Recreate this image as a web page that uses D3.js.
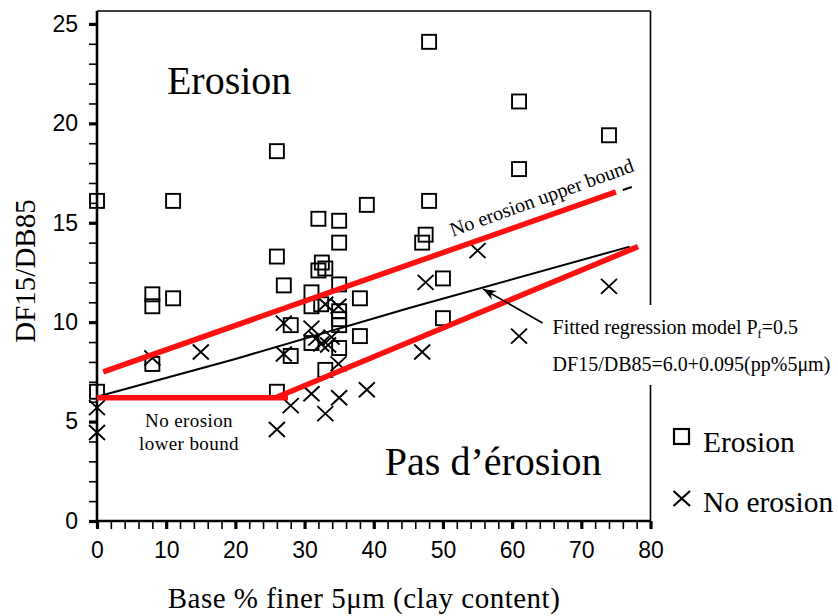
<!DOCTYPE html>
<html>
<head>
<meta charset="utf-8">
<script src="https://cdn.jsdelivr.net/npm/d3@7"></script>
<style>
  html, body { margin: 0; padding: 0; background: #fff; }
  svg { display: block; }
  text { fill: #000; }
</style>
</head>
<body>
<svg id="chart" width="838" height="616"></svg>
<script>
// ---------- data ----------
const erosionX = [0, 11, 8, 8, 11, 8, 0,
  26, 32, 35, 39, 35, 26, 32.5, 32, 33,
  27, 31, 31, 35, 38, 32.4, 35, 35, 35, 28, 38, 31, 35, 28, 33, 26,
  48, 61, 74, 61, 48, 47.5, 47, 50, 50];
const erosionY = [16.1, 16.1, 11.4, 10.8, 11.2, 7.9, 6.5,
  18.6, 15.2, 15.1, 15.9, 14.0, 13.3, 13.0, 12.6, 12.7,
  11.85, 11.5, 10.8, 11.9, 11.2, 10.9, 10.55, 10.15, 9.85, 9.85, 9.3, 8.95, 8.7, 8.3, 7.6, 6.5,
  24.1, 21.1, 19.4, 17.7, 16.1, 14.4, 14.0, 12.2, 10.2];

const noErosionX = [0, 0, 8, 15,
  26, 28, 31, 33, 35, 39,
  27, 27, 31, 31.7, 32.4, 33.9, 33.4, 34.9, 33, 34.9,
  47, 47.5, 55, 61, 74];
const noErosionY = [5.7, 4.45, 8.2, 8.5,
  4.6, 5.8, 6.4, 5.4, 6.2, 6.6,
  9.95, 8.4, 9.7, 9.2, 8.9, 9.25, 8.85, 7.9, 10.9, 10.8,
  8.5, 12.0, 13.6, 9.3, 11.8];

// regression curve (fitted model P_f = 0.5)
const regX = [0, 20, 45, 77];
const regY = [6.25, 8.15, 10.7, 13.8];
// no erosion upper bound (red)
const upperX = [0.9, 75];
const upperY = [7.5, 16.55];
// no erosion lower bound (red)
const lowerFlatX = [0, 27.6];
const lowerFlatY = [6.2, 6.2];
const lowerDiagX = [25.8, 78.2];
const lowerDiagY = [6.2, 13.8];

const xMajor = [0, 10, 20, 30, 40, 50, 60, 70, 80];
const yMajor = [0, 5, 10, 15, 20, 25];

// ---------- layout ----------
const svg = d3.select("#chart");
const x = d3.scaleLinear().domain([0, 80]).range([97, 650.5]);
const y = d3.scaleLinear().domain([0, 25.65]).range([521, 11]);

const serif = "'Liberation Serif', 'Times New Roman', serif";
const sans = "'Liberation Sans', Arial, sans-serif";

// frame (top & right, thin)
svg.append("line").attr("x1", x(0)).attr("x2", x(80)).attr("y1", y(25.65)).attr("y2", y(25.65))
  .attr("stroke", "#000").attr("stroke-width", 1.6);
svg.append("line").attr("x1", x(80)).attr("x2", x(80)).attr("y1", y(25.65)).attr("y2", y(0))
  .attr("stroke", "#000").attr("stroke-width", 1.6);

// axes: minor and major ticks
const yMinor = d3.range(0, 26, 1);
const xMinor = d3.range(0, 81, 2);

const gyMinor = svg.append("g").attr("transform", `translate(${x(0)},0)`)
  .call(d3.axisLeft(y).tickValues(yMinor).tickSize(8).tickFormat(""));
gyMinor.selectAll("line").attr("stroke-width", 1.6);
gyMinor.select(".domain").remove();
const gy = svg.append("g").attr("transform", `translate(${x(0)},0)`)
  .call(d3.axisLeft(y).tickValues(yMajor).tickSize(8).tickPadding(11).tickFormat(d3.format("d")));
gy.selectAll("line").attr("stroke-width", 3.2);
gy.selectAll("text").attr("font-family", sans).attr("font-size", 23).attr("fill", "#000");
gy.select(".domain").attr("stroke-width", 2.6).attr("d", `M0,${y(25.65)}V${y(0)}`);

const gxMinor = svg.append("g").attr("transform", `translate(0,${y(0)})`)
  .call(d3.axisBottom(x).tickValues(xMinor).tickSize(8).tickFormat(""));
gxMinor.selectAll("line").attr("stroke-width", 1.6);
gxMinor.select(".domain").remove();
const gx = svg.append("g").attr("transform", `translate(0,${y(0)})`)
  .call(d3.axisBottom(x).tickValues(xMajor).tickSize(8).tickPadding(13).tickFormat(d3.format("d")));
gx.selectAll("line").attr("stroke-width", 3.2);
gx.selectAll("text").attr("font-family", sans).attr("font-size", 23).attr("fill", "#000");
gx.select(".domain").attr("stroke-width", 2.6).attr("d", `M${x(0) - 1},0H${x(80)}`);

// axis titles
svg.append("text")
  .attr("transform", `translate(35,${(y(0) + y(25.65)) / 2 + 5}) rotate(-90)`)
  .attr("text-anchor", "middle").attr("font-family", serif).attr("font-size", 29)
  .text("DF15/DB85");
svg.append("text")
  .attr("x", 364).attr("y", 608)
  .attr("text-anchor", "middle").attr("font-family", serif).attr("font-size", 29)
  .attr("letter-spacing", 0.5)
  .text("Base % finer 5μm (clay content)");

// ---------- lines ----------
const lineGen = d3.line().x(d => x(d[0])).y(d => y(d[1]));
svg.append("path").datum(d3.zip(regX, regY)).attr("d", lineGen)
  .attr("fill", "none").attr("stroke", "#000").attr("stroke-width", 2);
// small black dash at end of upper bound
svg.append("path").datum([[76.0, 16.65], [77.3, 16.8]]).attr("d", lineGen)
  .attr("fill", "none").attr("stroke", "#000").attr("stroke-width", 2);

// ---------- points ----------
const sq = 14;
svg.append("g").selectAll("rect").data(d3.zip(erosionX, erosionY)).join("rect")
  .attr("x", d => x(d[0]) - sq / 2).attr("y", d => y(d[1]) - sq / 2)
  .attr("width", sq).attr("height", sq)
  .attr("fill", "none").attr("stroke", "#000").attr("stroke-width", 1.9);

const cw = 8, ch = 7.5;
const crossPath = (cx, cy) => `M${cx - cw},${cy - ch}L${cx + cw},${cy + ch}M${cx - cw},${cy + ch}L${cx + cw},${cy - ch}`;
svg.append("g").selectAll("path").data(d3.zip(noErosionX, noErosionY)).join("path")
  .attr("d", d => crossPath(x(d[0]), y(d[1])))
  .attr("fill", "none").attr("stroke", "#000").attr("stroke-width", 1.9);

// red bounds
const red = "#ff1010";
svg.append("path").datum(d3.zip(upperX, upperY)).attr("d", lineGen)
  .attr("fill", "none").attr("stroke", red).attr("stroke-width", 5.5);
svg.append("path").datum(d3.zip(lowerFlatX, lowerFlatY)).attr("d", lineGen)
  .attr("fill", "none").attr("stroke", red).attr("stroke-width", 5.5);
svg.append("path").datum(d3.zip(lowerDiagX, lowerDiagY)).attr("d", lineGen)
  .attr("fill", "none").attr("stroke", red).attr("stroke-width", 5.5);

// ---------- annotations ----------
svg.append("text").attr("x", x(10.1)).attr("y", y(21.5))
  .attr("font-family", serif).attr("font-size", 40).text("Erosion");
svg.append("text").attr("x", x(41.6)).attr("y", y(2.3))
  .attr("font-family", serif).attr("font-size", 40).text("Pas d’érosion");

svg.append("text").attr("x", x(13.3)).attr("y", y(4.74))
  .attr("text-anchor", "middle").attr("font-family", serif).attr("font-size", 19)
  .attr("letter-spacing", 0.4).text("No erosion");
svg.append("text").attr("x", x(13.3)).attr("y", y(3.57))
  .attr("text-anchor", "middle").attr("font-family", serif).attr("font-size", 19)
  .attr("letter-spacing", 0.4).text("lower bound");

const ang = Math.atan2(y(upperY[1]) - y(upperY[0]), x(upperX[1]) - x(upperX[0])) * 180 / Math.PI;
svg.append("text")
  .attr("transform", `translate(${x(64.6)},${y(15.95)}) rotate(${ang - 0.5})`)
  .attr("text-anchor", "middle").attr("font-family", serif).attr("font-size", 20)
  .text("No erosion upper bound");

// white box behind the model text, covering the right frame
svg.append("rect").attr("x", 548).attr("y", 305).attr("width", 290).attr("height", 80).attr("fill", "#fff");

const t1 = svg.append("text").attr("x", x(65.85)).attr("y", y(9.4))
  .attr("font-family", serif).attr("font-size", 20);
t1.append("tspan").text("Fitted regression model P");
t1.append("tspan").attr("font-size", 12.5).attr("dy", 4).text("f");
t1.append("tspan").attr("dy", -4).text("=0.5");
svg.append("text").attr("x", x(65.85)).attr("y", y(7.56))
  .attr("font-family", serif).attr("font-size", 20)
  .text("DF15/DB85=6.0+0.095(pp%5μm)");

// arrow
const ax0 = x(64.4), ay0 = y(9.96), ax1 = x(55.8), ay1 = y(11.67);
svg.append("line").attr("x1", ax0).attr("y1", ay0).attr("x2", ax1).attr("y2", ay1)
  .attr("stroke", "#000").attr("stroke-width", 1.6);
const aa = Math.atan2(ay1 - ay0, ax1 - ax0);
const hl = 13, hw = 5;
const bx = ax1 - hl * Math.cos(aa), by = ay1 - hl * Math.sin(aa);
svg.append("path")
  .attr("d", `M${ax1},${ay1}L${bx - hw * Math.sin(aa)},${by + hw * Math.cos(aa)}L${bx + 4 * Math.cos(aa)},${by + 4 * Math.sin(aa)}L${bx + hw * Math.sin(aa)},${by - hw * Math.cos(aa)}Z`)
  .attr("fill", "#000");

// ---------- legend ----------
const legend = svg.append("g");
legend.append("rect").attr("x", 674).attr("y", 429).attr("width", 15).attr("height", 15)
  .attr("fill", "none").attr("stroke", "#000").attr("stroke-width", 2.2);
legend.append("path").attr("d", "M673.5,491L690,506M673.5,506L690,491")
  .attr("fill", "none").attr("stroke", "#000").attr("stroke-width", 2.2);
legend.append("text").attr("x", 703).attr("y", 452)
  .attr("font-family", serif).attr("font-size", 29.5).text("Erosion");
legend.append("text").attr("x", 703).attr("y", 512)
  .attr("font-family", serif).attr("font-size", 29.5).text("No erosion");
</script>
</body>
</html>
